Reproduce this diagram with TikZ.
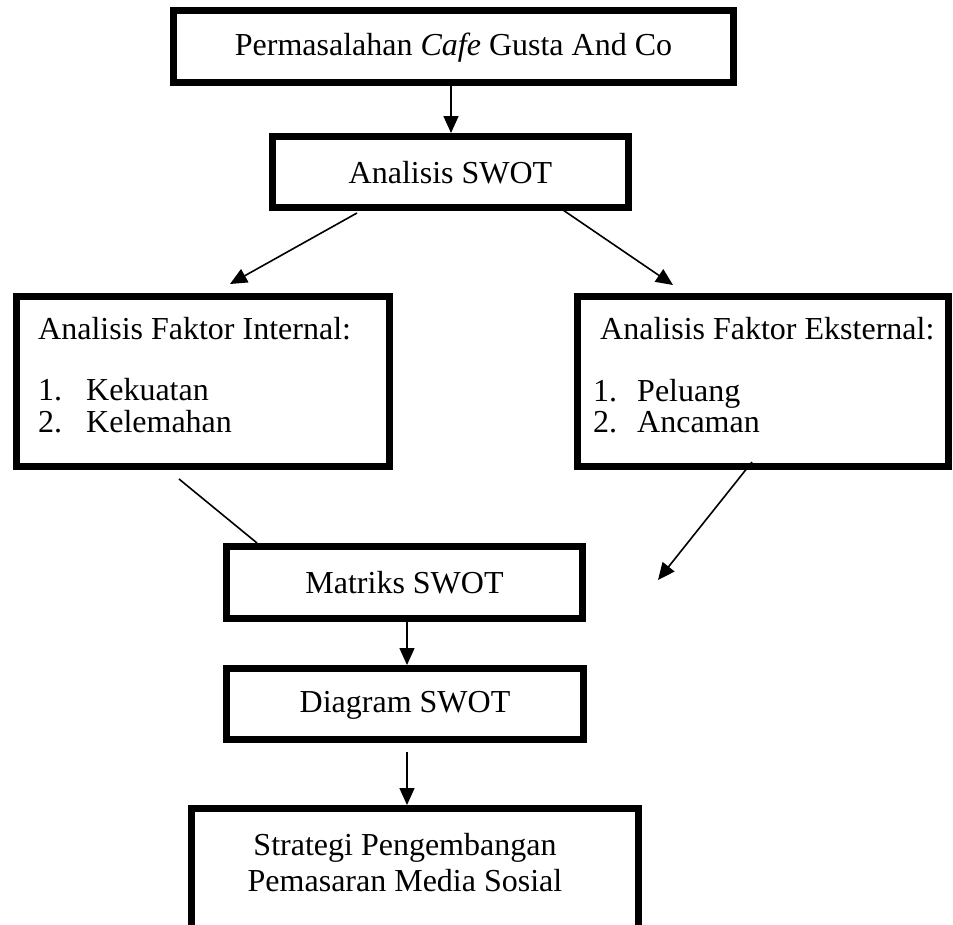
\documentclass[tikz,border=0pt]{standalone}
\usepackage{fontspec}
\setmainfont{Liberation Serif}
\usetikzlibrary{arrows.meta}
\begin{document}
\begin{tikzpicture}[x=1pt,y=-1pt,
  box/.style={draw, line width=7pt, inner sep=0pt, fill=white},
  lbl/.style={inner sep=0pt, font=\fontsize{32}{36}\selectfont},
  item/.style={lbl, anchor=base west},
  arr/.style={line width=1.6pt, -{Triangle[length=17pt,width=15pt]}},
  plain/.style={line width=1.6pt}]
\useasboundingbox (0,0) rectangle (953,924);
\clip (0,0) rectangle (953,924);
% boxes
\node[box, minimum width=560pt, minimum height=72pt] (p) at (453.5,46.5) {};
\node[lbl] (pt) at (453.5,48) {Permasalahan \textit{Cafe} Gusta And Co};
\node[box, minimum width=356pt, minimum height=71pt] (s) at (450.5,172) {};
\node[lbl] (st) at (450.5,173) {Analisis SWOT};
\node[box, minimum width=373pt, minimum height=170pt] (fi) at (203,381.5) {};
\node[item] (fih) at (38,339) {Analisis Faktor Internal:};
\node[item] (fi1n) at (38,400) {1.};
\node[item] (fi1) at (86,400) {Kekuatan};
\node[item] (fi2n) at (38,432) {2.};
\node[item] (fi2) at (86,432) {Kelemahan};
\node[box, minimum width=371pt, minimum height=170pt] (fe) at (763,381.5) {};
\node[item] (feh) at (600,339) {Analisis Faktor Eksternal:};
\node[item] (fe1n) at (593,401) {1.};
\node[item] (fe1) at (637,401) {Peluang};
\node[item] (fe2n) at (593,432) {2.};
\node[item] (fe2) at (637,432) {Ancaman};
\node[box, minimum width=356pt, minimum height=72pt] (m) at (404.5,582.5) {};
\node[lbl] (mt) at (404.5,583) {Matriks SWOT};
\node[box, minimum width=357pt, minimum height=71pt] (d) at (405,704) {};
\node[lbl] (dt) at (405,705) {Diagram SWOT};
\node[box, minimum width=447pt, minimum height=150pt] (g) at (415,883.5) {};
\node[lbl, align=center] (gt) at (405,863) {Strategi Pengembangan\\Pemasaran Media Sosial};
% connector end points
\coordinate (a1s) at (451,80);
\coordinate (a1e) at (451,133);
\coordinate (a2s) at (357,213);
\coordinate (a2e) at (230,284);
\coordinate (a3s) at (563,210);
\coordinate (a3e) at (673,285);
\coordinate (l4s) at (179,479);
\coordinate (l4e) at (257,543);
\coordinate (a5s) at (752,462);
\coordinate (a5e) at (658,580);
\coordinate (a6s) at (407,616);
\coordinate (a6e) at (407,665);
\coordinate (a7s) at (407,752);
\coordinate (a7e) at (407,805);
% connectors
\draw[arr] (a1s) -- (a1e);
\draw[arr] (a2s) -- (a2e);
\draw[arr] (a3s) -- (a3e);
\draw[plain] (l4s) -- (l4e);
\draw[arr] (a5s) -- (a5e);
\draw[arr] (a6s) -- (a6e);
\draw[arr] (a7s) -- (a7e);
\end{tikzpicture}
\end{document}
